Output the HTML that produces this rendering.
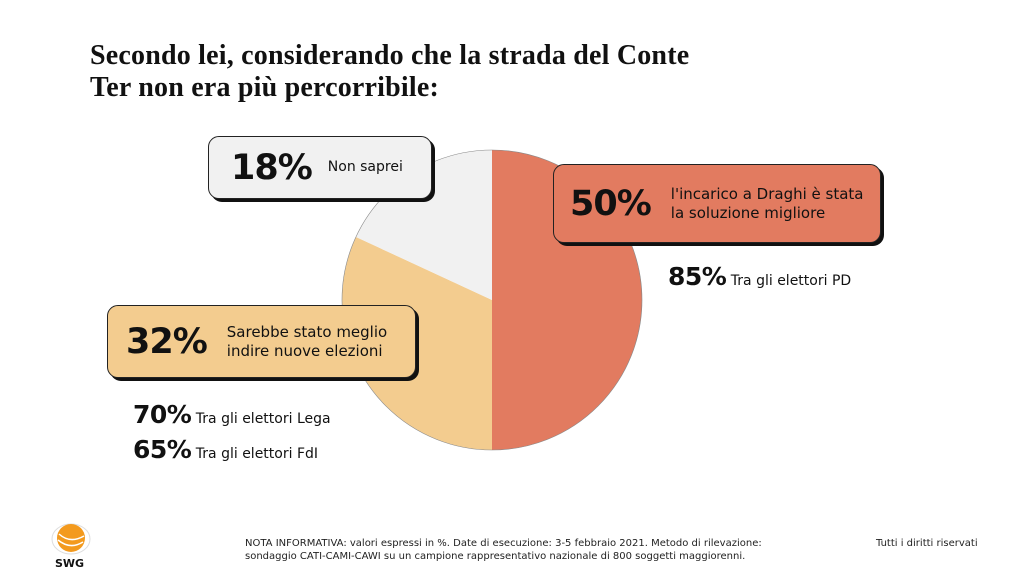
<!DOCTYPE html>
<html><head><meta charset="utf-8"><style>
body{margin:0;width:1024px;height:576px;background:#fff;position:relative;overflow:hidden;font-family:"DejaVu Sans","Liberation Sans",sans-serif;color:#111}
.t{position:absolute;left:90px;top:40px;font-family:"Liberation Serif",serif;font-weight:bold;font-size:28px;line-height:32px;letter-spacing:0.2px;color:#111;white-space:nowrap}
.box{position:absolute;border:1.5px solid #222;border-radius:11px;box-shadow:3px 3px 0 #111;box-sizing:border-box;display:flex;align-items:center;white-space:nowrap}
.big{font-weight:bold;font-size:35px;letter-spacing:-1px}
.lab{font-size:15px;line-height:19px}
.s{position:absolute;font-size:14px;white-space:nowrap}
.s b{font-size:25px;letter-spacing:-0.5px}
.note{position:absolute;font-size:10px;line-height:13px;color:#222;white-space:nowrap}
</style></head><body>
<div class="t">Secondo lei, considerando che la strada del Conte<br>Ter non era più percorribile:</div>
<svg style="position:absolute;left:0;top:0" width="1024" height="576">
<path d="M492,300 L492,150 A150,150 0 0 1 492,450 Z" fill="#E27B60"/>
<path d="M492,300 L492,450 A150,150 0 0 1 356,237 Z" fill="#F3CC8F"/>
<path d="M492,300 L356,237 A150,150 0 0 1 492,150 Z" fill="#F1F1F1"/>
<circle cx="492" cy="300" r="150" fill="none" stroke="#888" stroke-width="0.6"/>
</svg>
<div class="box" style="left:208px;top:136px;width:224px;height:63px;background:#F1F1F1"><span class="big" style="margin-left:22px">18%</span><span class="lab" style="margin-left:16px;font-size:14px">Non saprei</span></div>
<div class="box" style="left:553px;top:164px;width:328px;height:79px;background:#E27B60"><span class="big" style="margin-left:16px">50%</span><span class="lab" style="margin-left:20px">l'incarico a Draghi è stata<br>la soluzione migliore</span></div>
<div class="box" style="left:107px;top:305px;width:309px;height:73px;background:#F3CC8F"><span class="big" style="margin-left:18px">32%</span><span class="lab" style="margin-left:20px">Sarebbe stato meglio<br>indire nuove elezioni</span></div>
<div class="s" style="left:668px;top:262px"><b>85%</b> Tra gli elettori PD</div>
<div class="s" style="left:133px;top:400px"><b>70%</b> Tra gli elettori Lega</div>
<div class="s" style="left:133px;top:435px"><b>65%</b> Tra gli elettori FdI</div>
<svg style="position:absolute;left:50px;top:522px" width="42" height="34" viewBox="0 0 42 34">
<ellipse cx="21" cy="17" rx="19" ry="15" fill="none" stroke="#ddd" stroke-width="1"/>
<circle cx="21" cy="16" r="14" fill="#F39A1E"/>
<path d="M9,12 Q20,22 34,14 M8,18 Q20,28 33,20" stroke="#fff" stroke-width="1.5" fill="none"/>
</svg>
<div style="position:absolute;left:55px;top:557px;font-weight:bold;font-size:11px">SWG</div>
<div class="note" style="left:245px;top:537px">NOTA INFORMATIVA: valori espressi in %. Date di esecuzione: 3-5 febbraio 2021. Metodo di rilevazione:<br>sondaggio CATI-CAMI-CAWI su un campione rappresentativo nazionale di 800 soggetti maggiorenni.</div>
<div class="note" style="left:876px;top:537px">Tutti i diritti riservati</div>
</body></html>
